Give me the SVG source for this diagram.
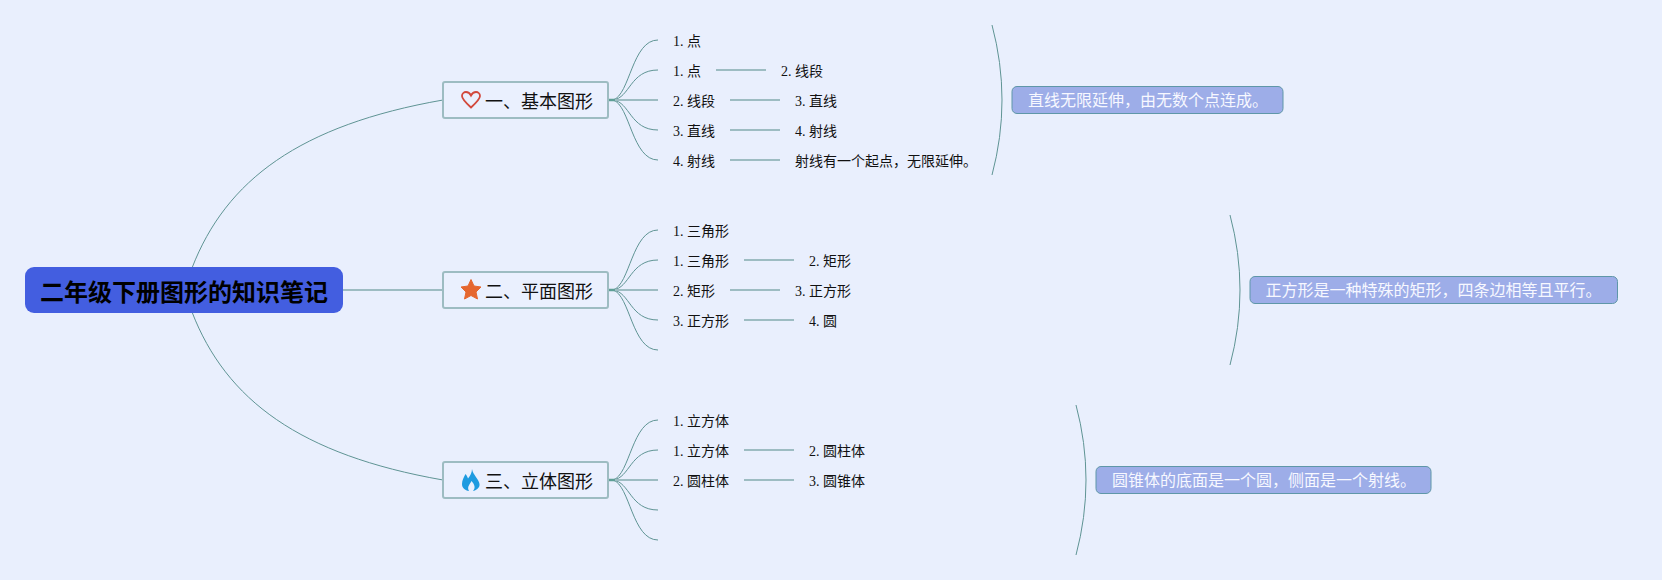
<svg xmlns="http://www.w3.org/2000/svg" width="1662" height="580" viewBox="0 0 1662 580">
<style>
text{font-family:"Liberation Serif","Noto Sans CJK SC",serif;fill:#111}
.c{fill:none;stroke:#5f9494;stroke-width:1}
.s{fill:none;stroke:#9dbcc2;stroke-width:2}
.j{fill:none;stroke:#5f9f96;stroke-width:2.5}
.b{fill:#eaf0fe;stroke:#9dbcc2;stroke-width:2}
.t{font-size:14px}
.h{font-size:18px;font-family:"Noto Sans CJK SC",sans-serif}
.n{fill:#9dade8;stroke:#5f97a8;stroke-width:1}
.nt{font-size:16px;font-family:"Noto Sans CJK SC",sans-serif;fill:#f7f8ff}
</style>
<rect width="1662" height="580" fill="#e9effd"/>
<g id="connectors">
<path class="c" d="M192 268C226 180 300 125 443 100"/>
<path class="c" d="M192 312C226 400 300 455 443 480"/>
<path class="s" d="M343 290H443"/>
<path class="c" d="M613 100C630 95 632 40 658 40M613 100C630 98 630 70 658 70M613 100C630 102 630 130 658 130M613 100C630 105 632 160 658 160"/>
<path class="s" d="M612 100H658M716 70H766M730 100H780M730 130H780M730 160H780"/>
<path class="j" d="M608 100H615"/>
<path class="c" d="M613 290C630 285 632 230 658 230M613 290C630 288 630 260 658 260M613 290C630 292 630 320 658 320M613 290C630 295 632 350 658 350"/>
<path class="s" d="M612 290H658M744 260H794M730 290H780M744 320H794"/>
<path class="j" d="M608 290H615"/>
<path class="c" d="M613 480C630 475 632 420 658 420M613 480C630 478 630 450 658 450M613 480C630 482 630 510 658 510M613 480C630 485 632 540 658 540"/>
<path class="s" d="M612 480H658M744 450H794M744 480H794"/>
<path class="j" d="M608 480H615"/>
<path class="c" d="M992 25Q1012 100 992 175"/>
<path class="c" d="M1230 215Q1250 290 1230 365"/>
<path class="c" d="M1076 405Q1096 480 1076 555"/>
</g>
<g id="root"><rect x="25" y="267" width="318" height="46" rx="9" fill="#435ee0"/><text x="184" y="301" text-anchor="middle" style="font-family:'Noto Sans CJK SC',sans-serif;font-size:24px;font-weight:700;fill:#000">二年级下册图形的知识笔记</text></g>
<g id="topic1"><rect class="b" x="443" y="82" width="165" height="36" rx="2"/><path d="M471 107.500C465 102 462 99 462 96C462 93.500 464 92 466 92C468 92 470 93.500 471 95.500C472 93.500 474 92 476 92C478 92 480 93.500 480 96C480 99 477 102 471 107.500Z" fill="none" stroke="#d2483c" stroke-width="1.800"/><text class="h" x="485" y="108">一、基本图形</text></g>
<g id="topic2"><rect class="b" x="443" y="272" width="165" height="36" rx="2"/><path d="M471 279.500L474 286L481 287L476 292L477.500 299L471 295.500L464.500 299L466 292L461 287L468 286Z" fill="#e5672f" stroke="#e5672f" stroke-linejoin="round"/><text class="h" x="485" y="298">二、平面图形</text></g>
<g id="topic3"><rect class="b" x="443" y="462" width="165" height="36" rx="2"/><path d="M472 469C473 475 479 479 479.500 484C480 488 476 490.500 473 491C475.500 488 475 485 471.500 481C470 484 466.500 487 469 491C465 490.500 462 488 462 484C462 480 464 477 465.500 474C467 476 467.500 477 468 478.500C470 476 472 473 472 469Z" fill="#1e9be0"/><text class="h" x="485" y="488">三、立体图形</text></g>
<g id="n1"><text class="t" x="673" y="46">1. 点</text></g>
<g id="n2"><text class="t" x="673" y="76">1. 点</text></g>
<g id="n3"><text class="t" x="781" y="76">2. 线段</text></g>
<g id="n4"><text class="t" x="673" y="106">2. 线段</text></g>
<g id="n5"><text class="t" x="795" y="106">3. 直线</text></g>
<g id="n6"><text class="t" x="673" y="136">3. 直线</text></g>
<g id="n7"><text class="t" x="795" y="136">4. 射线</text></g>
<g id="n8"><text class="t" x="673" y="166">4. 射线</text></g>
<g id="n9"><text class="t" x="795" y="166">射线有一个起点，无限延伸。</text></g>
<g id="n10"><text class="t" x="673" y="236">1. 三角形</text></g>
<g id="n11"><text class="t" x="673" y="266">1. 三角形</text></g>
<g id="n12"><text class="t" x="809" y="266">2. 矩形</text></g>
<g id="n13"><text class="t" x="673" y="296">2. 矩形</text></g>
<g id="n14"><text class="t" x="795" y="296">3. 正方形</text></g>
<g id="n15"><text class="t" x="673" y="326">3. 正方形</text></g>
<g id="n16"><text class="t" x="809" y="326">4. 圆</text></g>
<g id="n17"><text class="t" x="673" y="426">1. 立方体</text></g>
<g id="n18"><text class="t" x="673" y="456">1. 立方体</text></g>
<g id="n19"><text class="t" x="809" y="456">2. 圆柱体</text></g>
<g id="n20"><text class="t" x="673" y="486">2. 圆柱体</text></g>
<g id="n21"><text class="t" x="809" y="486">3. 圆锥体</text></g>
<g id="note1"><rect class="n" x="1012" y="86.500" width="271" height="27" rx="5"/><text class="nt" x="1028" y="106">直线无限延伸，由无数个点连成。</text></g>
<g id="note2"><rect class="n" x="1250" y="276.500" width="367.500" height="27" rx="5"/><text class="nt" x="1265.500" y="296">正方形是一种特殊的矩形，四条边相等且平行。</text></g>
<g id="note3"><rect class="n" x="1096" y="466.500" width="335" height="27" rx="5"/><text class="nt" x="1112" y="486">圆锥体的底面是一个圆，侧面是一个射线。</text></g>
</svg>
